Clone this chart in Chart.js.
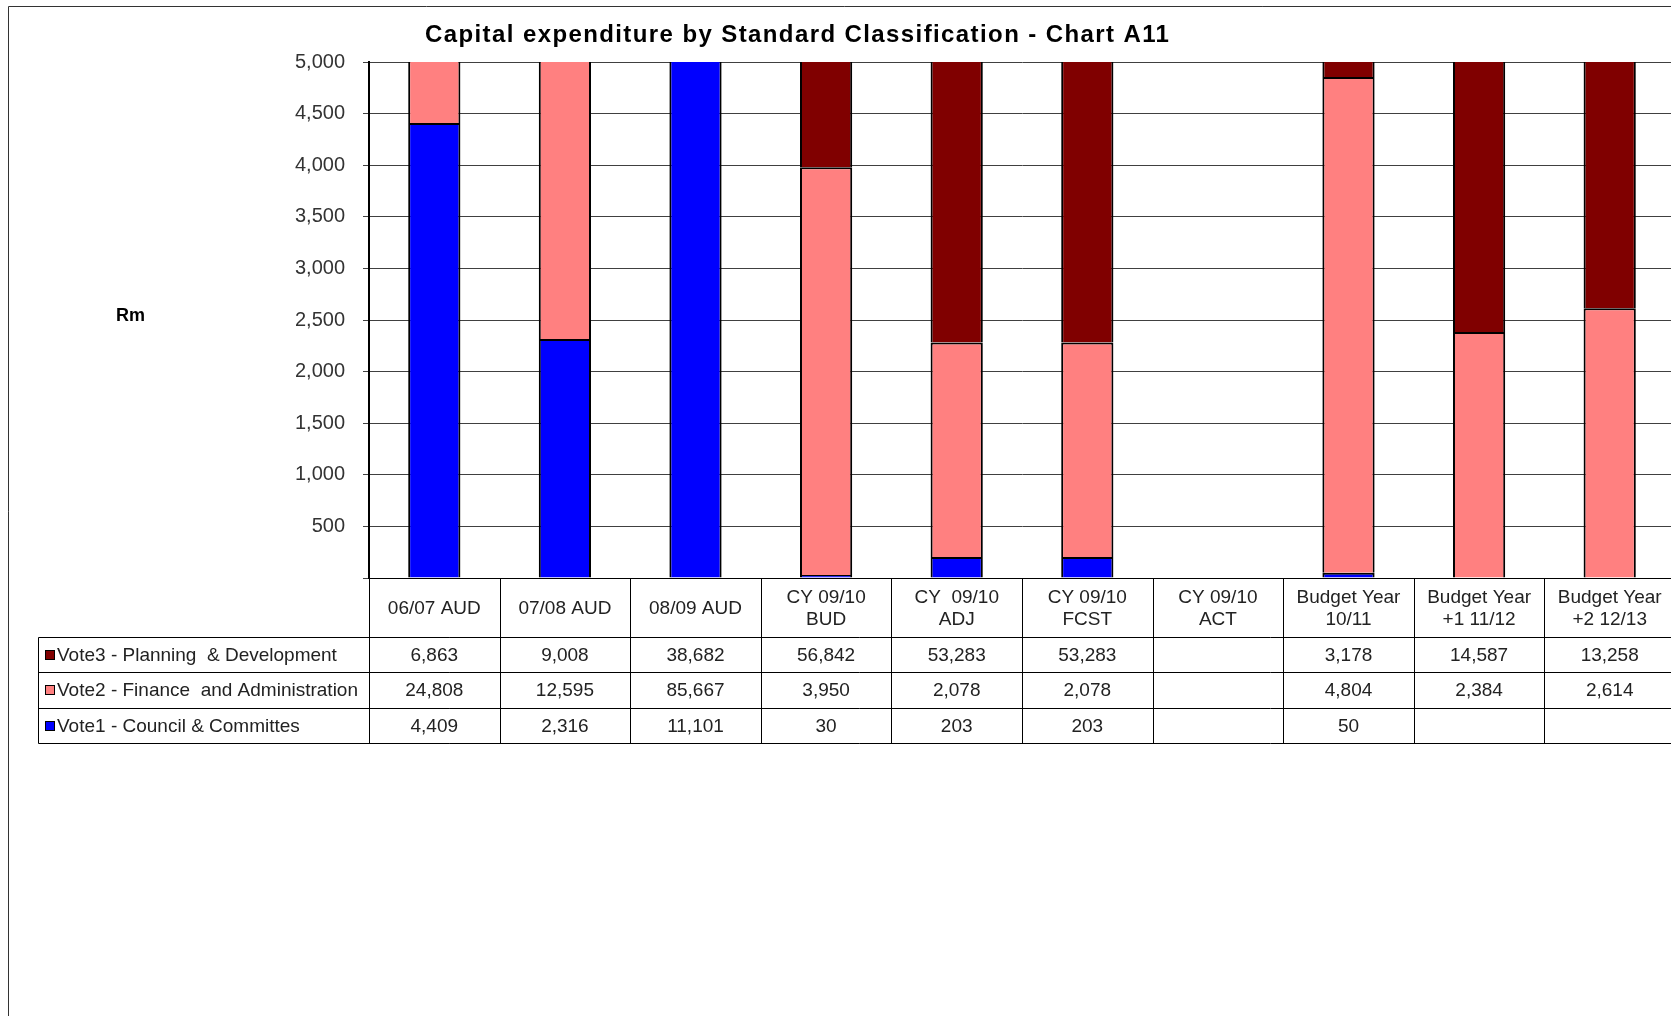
<!DOCTYPE html>
<html>
<head>
<meta charset="utf-8">
<title>Capital expenditure by Standard Classification - Chart A11</title>
<script src="https://cdn.jsdelivr.net/npm/chart.js@4/dist/chart.umd.min.js"></script>
<style>
  html, body { margin: 0; padding: 0; background: #fff; overflow: hidden; }
  canvas { display: block; }
</style>
</head>
<body>
<canvas id="myChart" width="1680" height="1016"></canvas>
<script>
// categories (header row of the data table), multi-line labels
var categories = [
    ["06/07 AUD"],
    ["07/08 AUD"],
    ["08/09 AUD"],
    ["CY 09/10", "BUD"],
    ["CY  09/10", "ADJ"],
    ["CY 09/10", "FCST"],
    ["CY 09/10", "ACT"],
    ["Budget Year", "10/11"],
    ["Budget Year", "+1 11/12"],
    ["Budget Year", "+2 12/13"]
];

// series values (Rm), null = empty cell
var vote1 = [4409, 2316, 11101, 30, 203, 203, null, 50, null, null];
var vote2 = [24808, 12595, 85667, 3950, 2078, 2078, null, 4804, 2384, 2614];
var vote3 = [6863, 9008, 38682, 56842, 53283, 53283, null, 3178, 14587, 13258];

var seriesNames = [
    "Vote1 - Council & Committes",
    "Vote2 - Finance  and Administration",
    "Vote3 - Planning  & Development"
];

// y axis ticks
var yMin = 0;
var yMax = 5000;
var yStep = 500;

var chartTitle = "Capital expenditure by Standard Classification - Chart A11";
var yTitle = "Rm";

var colors = ["#0000ff", "#ff8080", "#800000"];
var FONT = '"Liberation Sans", Arial, sans-serif';

function fmt(v) {
    if (v === null || v === undefined) return "";
    return v.toLocaleString("en-US");
}

// draws the frame, title, axis title and the data table under the plot
var tablePlugin = {
    id: "dataTable",
    beforeDraw: function (chart) {
        var ctx = chart.ctx;
        ctx.save();
        ctx.fillStyle = "#fff";
        ctx.fillRect(0, 0, chart.width, chart.height);
        ctx.restore();
    },
    afterDraw: function (chart) {
        var ctx = chart.ctx;
        var area = chart.chartArea;
        var xs = chart.scales.x;
        var n = categories.length;

        function edge(i) {
            if (i === 0) return area.left;
            if (i === n) return area.right;
            return (xs.getPixelForValue(i - 1) + xs.getPixelForValue(i)) / 2;
        }

        ctx.save();

        // outer frame
        ctx.strokeStyle = "#333";
        ctx.lineWidth = 1;
        ctx.beginPath();
        ctx.moveTo(8.5, chart.height + 5);
        ctx.lineTo(8.5, 6.5);
        ctx.lineTo(chart.width + 5, 6.5);
        ctx.stroke();

        // title
        ctx.fillStyle = "#000";
        ctx.font = "bold 24px " + FONT;
        ctx.letterSpacing = "1.4px";
        ctx.textAlign = "left";
        ctx.textBaseline = "alphabetic";
        ctx.fillText(chartTitle, 425, 42);
        ctx.letterSpacing = "0px";

        // axis title
        ctx.font = "bold 18px " + FONT;
        ctx.fillText(yTitle, 116, 321);

        // table geometry
        var headTop = area.bottom;
        var rowTops = [637, 672, 708];
        var tableBottom = 743;
        var leftX = 38.5;
        var rightX = chart.width + 5;

        ctx.strokeStyle = "#000";
        ctx.lineWidth = 1;
        ctx.beginPath();
        // x axis line
        ctx.moveTo(area.left, headTop + 0.5);
        ctx.lineTo(rightX, headTop + 0.5);
        // row lines
        rowTops.concat([tableBottom]).forEach(function (y) {
            ctx.moveTo(leftX, y + 0.5);
            ctx.lineTo(rightX, y + 0.5);
        });
        // left edge of legend column
        ctx.moveTo(leftX, rowTops[0] + 0.5);
        ctx.lineTo(leftX, tableBottom + 0.5);
        // column separators
        for (var i = 0; i <= n; i++) {
            var ex = Math.round(edge(i)) + 0.5;
            ctx.moveTo(ex, headTop);
            ctx.lineTo(ex, tableBottom + 0.5);
        }
        ctx.stroke();

        // header labels
        ctx.fillStyle = "#222";
        ctx.font = "19px " + FONT;
        ctx.textAlign = "center";
        ctx.textBaseline = "middle";
        var headMid = (headTop + rowTops[0]) / 2 + 1;
        categories.forEach(function (lab, i) {
            var cx = xs.getPixelForValue(i);
            if (lab.length === 1) {
                ctx.fillText(lab[0], cx, headMid);
            } else {
                ctx.fillText(lab[0], cx, headMid - 11);
                ctx.fillText(lab[1], cx, headMid + 11);
            }
        });

        // data rows, top row is the top of the stack
        var rows = [
            { name: seriesNames[2], color: colors[2], values: vote3 },
            { name: seriesNames[1], color: colors[1], values: vote2 },
            { name: seriesNames[0], color: colors[0], values: vote1 }
        ];
        var bottoms = rowTops.slice(1).concat([tableBottom]);
        rows.forEach(function (row, r) {
            var cy = (rowTops[r] + bottoms[r]) / 2 + 1;
            // legend key
            ctx.fillStyle = row.color;
            ctx.fillRect(46, Math.round(cy - 5), 8, 8);
            ctx.strokeStyle = "#000";
            ctx.strokeRect(45.5, Math.round(cy - 5) - 0.5, 9, 9);
            ctx.fillStyle = "#222";
            ctx.textAlign = "left";
            ctx.fillText(row.name, 57, cy);
            ctx.textAlign = "center";
            row.values.forEach(function (v, i) {
                ctx.fillText(fmt(v), xs.getPixelForValue(i), cy);
            });
        });

        ctx.restore();
    }
};

var ctx = document.getElementById("myChart").getContext("2d");
var chart = new Chart(ctx, {
    type: "bar",
    data: {
        labels: categories,
        datasets: [
            { label: seriesNames[0], data: vote1, backgroundColor: colors[0] },
            { label: seriesNames[1], data: vote2, backgroundColor: colors[1] },
            { label: seriesNames[2], data: vote3, backgroundColor: colors[2] }
        ]
    },
    options: {
        responsive: false,
        animation: false,
        devicePixelRatio: 1,
        layout: {
            padding: { top: 62, right: 5, bottom: 438, left: 0 }
        },
        datasets: {
            bar: {
                categoryPercentage: 1.0,
                barPercentage: 0.4,
                borderColor: "#000",
                borderWidth: 2
            }
        },
        plugins: {
            legend: { display: false },
            title: { display: false },
            tooltip: { enabled: false }
        },
        scales: {
            x: {
                stacked: true,
                display: false
            },
            y: {
                stacked: true,
                min: yMin,
                max: yMax,
                afterFit: function (scale) { scale.width = 369; },
                border: { display: true, color: "#000", width: 2 },
                grid: {
                    color: "#404040",
                    lineWidth: 1,
                    drawTicks: true,
                    tickLength: 6,
                    tickColor: "#404040"
                },
                ticks: {
                    stepSize: yStep,
                    padding: 18,
                    color: "#333",
                    font: { family: FONT, size: 20 },
                    callback: function (v) { return v === 0 ? "" : v.toLocaleString("en-US"); }
                }
            }
        }
    },
    plugins: [tablePlugin]
});
</script>
</body>
</html>
